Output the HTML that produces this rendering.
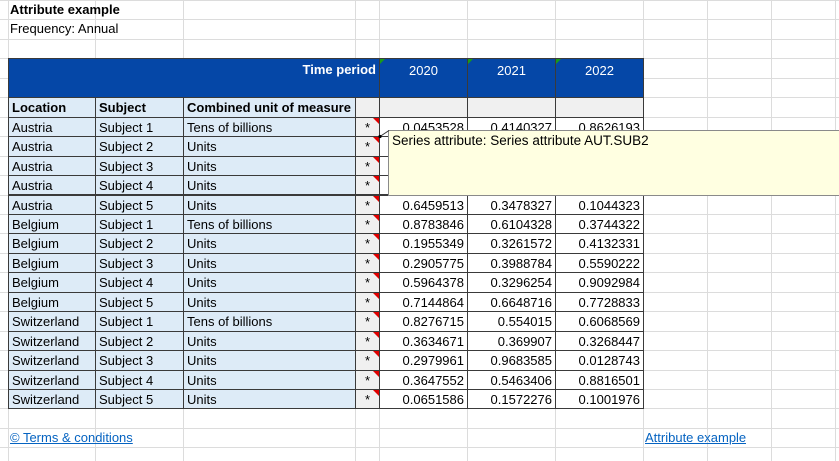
<!DOCTYPE html>
<html><head><meta charset="utf-8">
<style>
html,body{margin:0;padding:0;background:#fff;}
#sheet{position:relative;width:839px;height:461px;overflow:hidden;font-family:"Liberation Sans",sans-serif;font-size:13px;color:#000;}
.c{position:absolute;box-sizing:border-box;white-space:nowrap;overflow:hidden;line-height:19px;}
.gl{position:absolute;background:#dcdcdc;}
.b{border:1px solid #3a3a3a;}
.lab{background:#ddebf7;padding-left:3px;}
.ast{background:#f0f0f0;text-align:center;}
.val{text-align:right;padding-right:3px;background:#fff;}
.red{position:absolute;right:0;top:0;width:0;height:0;border-top:6px solid #e00000;border-left:6px solid transparent;}
.grn{position:absolute;left:0;top:0;width:0;height:0;border-top:5px solid #1a9a1a;border-right:5px solid transparent;}
a{color:#0563c1;text-decoration:underline;}
</style></head>
<body>
<div id="sheet"></div>
<script>
const locations=["Austria","Austria","Austria","Austria","Austria","Belgium","Belgium","Belgium","Belgium","Belgium","Switzerland","Switzerland","Switzerland","Switzerland","Switzerland"];
const subjects=["Subject 1","Subject 2","Subject 3","Subject 4","Subject 5","Subject 1","Subject 2","Subject 3","Subject 4","Subject 5","Subject 1","Subject 2","Subject 3","Subject 4","Subject 5"];
const units=["Tens of billions","Units","Units","Units","Units","Tens of billions","Units","Units","Units","Units","Tens of billions","Units","Units","Units","Units"];
const years=["2020","2021","2022"];
const v2020=["0.0453528","","","","0.6459513","0.8783846","0.1955349","0.2905775","0.5964378","0.7144864","0.8276715","0.3634671","0.2979961","0.3647552","0.0651586"];
const v2021=["0.4140327","","","","0.3478327","0.6104328","0.3261572","0.3988784","0.3296254","0.6648716","0.554015","0.369907","0.9683585","0.5463406","0.1572276"];
const v2022=["0.8626193","","","","0.1044323","0.3744322","0.4132331","0.5590222","0.9092984","0.7728833","0.6068569","0.3268447","0.0128743","0.8816501","0.1001976"];

const S=document.getElementById('sheet');
const RH=19.45;
const cols=[8,95,183,355,379,467,555,643];
function y(r){return r*RH;}
function cell(x,yy,w,h,cls,txt){
  const d=document.createElement('div');
  d.className='c '+cls;
  d.style.left=x+'px';d.style.top=yy+'px';d.style.width=w+'px';d.style.height=h+'px';
  d.style.lineHeight=h+'px';
  if(txt!==undefined)d.textContent=txt;
  S.appendChild(d);return d;
}
const gx=[8,95,183,355,379,467,555,643,707,771,835];
gx.forEach(x=>{const g=document.createElement('div');g.className='gl';g.style.left=x+'px';g.style.top='0px';g.style.width='1px';g.style.height='461px';

S.appendChild(g);});
for(let r=0;r<=24;r++){const g=document.createElement('div');g.className='gl';g.style.left='0px';g.style.top=y(r)+'px';g.style.width='839px';g.style.height='1px';

S.appendChild(g);}

let t=cell(10,y(0),300,RH,'','Attribute example');t.style.fontWeight='bold';


t=cell(10,y(1),300,RH,'','Frequency: Annual');



let bh=cell(8,y(3),379-8+1,y(5)-y(3)+1,'b','');bh.style.background='#0547a7';


let tp=cell(8,y(3)+2,371,RH,'','Time period');tp.style.color='#fff';tp.style.fontWeight='bold';tp.style.textAlign='right';tp.style.paddingRight='3px';


years.forEach((yr,i)=>{
  const d=cell(cols[4+i],y(3),cols[5+i]-cols[4+i]+1,y(5)-y(3)+1,'b','');d.style.background='#0547a7';
  
  
  const tx=document.createElement('div');tx.textContent=yr;tx.style.cssText='color:#fff;text-align:center;padding-top:2px;line-height:'+RH+'px;';d.appendChild(tx);
  const g=document.createElement('div');g.className='grn';d.appendChild(g);
  const g3=cell(cols[4+i],y(5),cols[5+i]-cols[4+i]+1,RH+1,'b','');g3.style.background='#f0f0f0';
  
  
});
const heads=["Location","Subject","Combined unit of measure"];
heads.forEach((h,i)=>{
  const d=cell(cols[i],y(5),cols[i+1]-cols[i]+1,RH+1,'b lab',h);d.style.fontWeight='bold';
  
  
});
let ah=cell(cols[3],y(5),cols[4]-cols[3]+1,RH+1,'b ast','');



const vals=[v2020,v2021,v2022];
locations.forEach((loc,i)=>{
  const r=6+i, yy=y(r), h=RH+1;
  let d=cell(cols[0],yy,cols[1]-cols[0]+1,h,'b lab',loc);
  
  
  d=cell(cols[1],yy,cols[2]-cols[1]+1,h,'b lab',subjects[i]);
  
  
  d=cell(cols[2],yy,cols[3]-cols[2]+1,h,'b lab',units[i]);
  
  
  d=cell(cols[3],yy,cols[4]-cols[3]+1,h,'b ast','*');
  
  
  const rd=document.createElement('div');rd.className='red';d.appendChild(rd);
  vals.forEach((arr,j)=>{
    const v=cell(cols[4+j],yy,cols[5+j]-cols[4+j]+1,h,'b val',arr[i]);
    
    
  });
});

const tip=cell(388,130,460,66,'','Series attribute: Series attribute AUT.SUB2');
tip.style.background='#ffffe1';tip.style.border='1px solid #8a8a8a';tip.style.paddingLeft='3px';tip.style.lineHeight='20px';tip.style.fontSize='13.5px';


const svgNS='http://www.w3.org/2000/svg';
const sv=document.createElementNS(svgNS,'svg');
sv.setAttribute('width','839');sv.setAttribute('height','461');sv.style.cssText='position:absolute;left:0;top:0;pointer-events:none;';


const ln=document.createElementNS(svgNS,'line');
ln.setAttribute('x1','380');ln.setAttribute('y1','136.5');ln.setAttribute('x2','389');ln.setAttribute('y2','130.5');ln.setAttribute('stroke','#333');ln.setAttribute('stroke-width','1');
sv.appendChild(ln);
const dot=document.createElementNS(svgNS,'circle');
dot.setAttribute('cx','380');dot.setAttribute('cy','136.5');dot.setAttribute('r','1.6');dot.setAttribute('fill','#000');
sv.appendChild(dot);
S.appendChild(sv);

const l1=document.createElement('a');l1.href='#';l1.textContent='© Terms & conditions';
l1.className='c';l1.style.cssText+='left:10px;top:'+y(22)+'px;height:'+RH+'px;line-height:'+RH+'px;';


S.appendChild(l1);
const l2=document.createElement('a');l2.href='#';l2.textContent='Attribute example';
l2.className='c';l2.style.cssText+='left:645px;top:'+y(22)+'px;height:'+RH+'px;line-height:'+RH+'px;';


S.appendChild(l2);
</script>
</body></html>
